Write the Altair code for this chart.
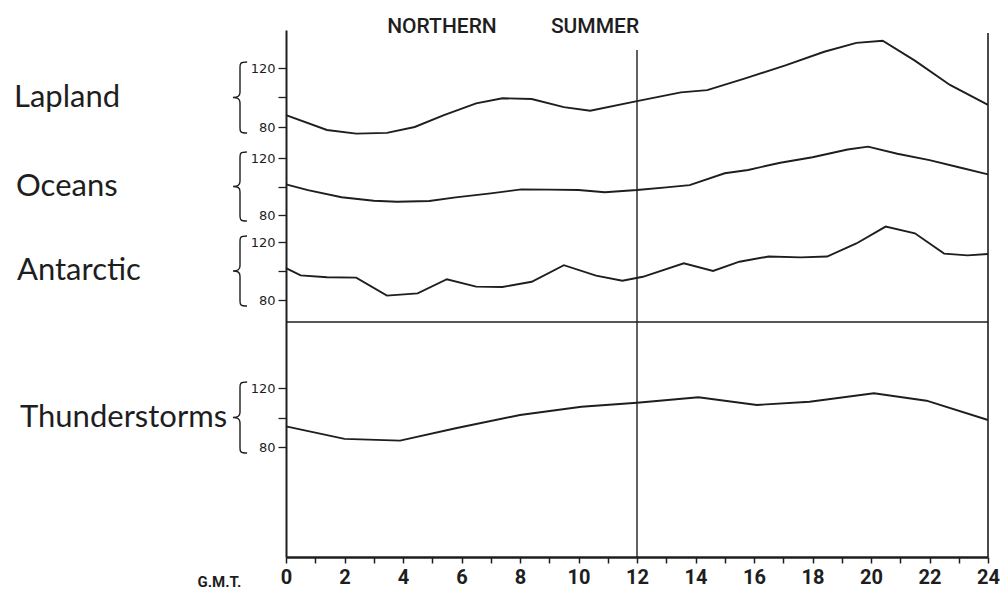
import altair as alt
import pandas as pd

# ---------------- data (hour G.M.T., % of mean) ----------------
series_names = ["Lapland", "Oceans", "Antarctic", "Thunderstorms"]

lapland_hours = [0, 1.4, 2.4, 3.45, 4.4, 5.4, 6.5, 7.4, 8.4, 9.5, 10.4, 12, 13.5, 14.4,
                 15.7, 17.1, 18.4, 19.5, 20.4, 21.5, 22.7, 24]
lapland_vals = [88, 78, 75.5, 76, 80, 88, 96, 99.5, 99, 93.5, 91, 97.5, 103.5, 105,
                113, 122, 131, 137, 138.5, 125, 108.5, 95]

oceans_hours = [0, 0.75, 1.9, 3, 3.8, 4.9, 5.8, 7, 8.05, 9, 10, 10.9, 12, 13, 13.8,
                15, 15.8, 16.9, 18, 19.2, 19.9, 20.9, 22, 23, 24]
oceans_vals = [101.5, 97.5, 92.5, 90, 89.3, 89.8, 92.4, 95.2, 98, 97.8, 97.5, 96, 97.5,
               99.4, 101, 109.3, 111.6, 116.7, 120.5, 126, 128, 123, 118.5, 113.5, 108.5]

antarctic_hours = [0, 0.5, 1.4, 2.4, 3.45, 4.5, 5.5, 6.5, 7.4, 8.4, 9.5, 10.6, 11.5, 12.2,
                   13.6, 14.6, 15.5, 16.5, 17.6, 18.5, 19.5, 20.5, 21.5, 22.5, 23.3, 24]
antarctic_vals = [102, 97, 95.7, 95.4, 83, 84.6, 94.3, 89.2, 89, 92.6, 104, 96.8, 93.3, 96,
                  105.3, 100, 106.4, 110, 109.4, 110, 119, 130.6, 126, 112, 110.8, 111.7]

thunder_hours = [0, 2, 3.9, 5.8, 8, 10.1, 12, 14.1, 16.1, 17.9, 20.1, 21.9, 24]
thunder_vals = [94, 85.5, 84.3, 92.7, 101.7, 107.3, 110, 113.7, 108.5, 110.7, 116.4, 111.4, 98.3]

x_ticks = list(range(0, 25))
y_ticks = [80, 100, 120]
header_words = ["NORTHERN", "SUMMER"]
divider_hours = [12, 24]

series_data = {
    "Lapland": (lapland_hours, lapland_vals),
    "Oceans": (oceans_hours, oceans_vals),
    "Antarctic": (antarctic_hours, antarctic_vals),
    "Thunderstorms": (thunder_hours, thunder_vals),
}

# ---------------- layout / style ----------------
PAD_L, PAD_T, W, H = 286, 30, 702, 527
INK = "#1e1e1e"
# page-y of the 120 and 80 ticks for each band
band_px = {"Lapland": (68, 127), "Oceans": (158, 215),
           "Antarctic": (242, 300), "Thunderstorms": (388, 447)}
name_px_x = {"Lapland": 14, "Oceans": 16, "Antarctic": 17, "Thunderstorms": 20}
BRACE_X = 240
BRACE = ("M0.2,-1 C0,-1 0,-0.95 0,-0.85 L0,-0.15 C0,-0.04 -0.06,0 -0.2,0 "
         "C-0.06,0 0,0.04 0,0.15 L0,0.85 C0,0.95 0,1 0.2,1")

xscale = alt.Scale(domain=[0, 24], nice=False, zero=False)
xaxis = alt.Axis(values=x_ticks, labelExpr="datum.value % 2 == 0 ? datum.label : ''",
                 title="G.M.T.", titleX=-67, titleY=24, titleAlign="center",
                 titleBaseline="middle", titleFont="Roboto", titleFontSize=15,
                 titleFontWeight="bold", titleColor=INK,
                 labelFont="Roboto", labelFontSize=20, labelFontWeight="bold",
                 labelColor=INK, labelPadding=4, labelFlush=False, labelOverlap=False,
                 tickSize=6, tickWidth=1.5, tickColor=INK, domainColor=INK,
                 domainWidth=2.5, grid=False)


def xenc():
    return alt.X("hour:Q", scale=xscale, axis=xaxis)


def band(name, first):
    hours, vals = series_data[name]
    y120, y80 = band_px[name]
    p120, p80 = y120 - PAD_T, y80 - PAD_T
    s = (p80 - p120) / 40.0
    yscale = alt.Scale(domain=[80 - (H - p80) / s, 120 + p120 / s], nice=False, zero=False)
    yaxis = alt.Axis(orient="left", values=y_ticks, title=None,
                     labelExpr="datum.value == 100 ? '' : datum.label",
                     labelFont="DejaVu Sans", labelFontSize=13, labelColor=INK,
                     labelPadding=3, labelFlush=False, labelOverlap=False,
                     tickSize=8, tickWidth=1.3, tickColor=INK,
                     domain=first, domainColor=INK, domainWidth=2, grid=False)
    df = pd.DataFrame({"hour": hours, "value": vals})
    line = alt.Chart(df).mark_line(color=INK, strokeWidth=1.9).encode(
        x=xenc(), y=alt.Y("value:Q", scale=yscale, axis=yaxis))
    one = pd.DataFrame({"name": [name]})
    label = alt.Chart(one).mark_text(align="left", baseline="middle", font="Lato",
                                     fontSize=31, color=INK).encode(
        x=alt.value(name_px_x[name] - PAD_L),
        y=alt.YDatum(100, scale=yscale, axis=yaxis),
        text="name:N")
    r = (p80 - p120) / 2 + 6
    brace = alt.Chart(one).mark_point(shape=BRACE, filled=False, size=(2 * r) ** 2,
                                      stroke=INK, strokeWidth=1.4, opacity=1).encode(
        x=alt.value(BRACE_X - PAD_L),
        y=alt.YDatum(100, scale=yscale, axis=yaxis))
    return alt.layer(line, label, brace)


bands = [band(n, i == 0) for i, n in enumerate(series_names)]

mid_rule = alt.Chart(pd.DataFrame({"hour": divider_hours[:1]})).mark_rule(
    color=INK, strokeWidth=1.4).encode(x=xenc(), y=alt.value(20), y2=alt.value(H))
right_rule = alt.Chart(pd.DataFrame({"hour": divider_hours[1:]})).mark_rule(
    color=INK, strokeWidth=1.6).encode(x=xenc(), y=alt.value(3), y2=alt.value(H))
sep_rule = alt.Chart(pd.DataFrame({"hour": [0]})).mark_rule(
    color=INK, strokeWidth=1.6).encode(x=alt.value(0), x2=alt.value(W), y=alt.value(292))

header_x = [156, 309]
headers = [
    alt.Chart(pd.DataFrame({"t": [w]})).mark_text(
        align="center", baseline="middle", font="Roboto", fontSize=21,
        fontWeight=500, color=INK).encode(x=alt.value(hx), y=alt.value(-3), text="t:N")
    for w, hx in zip(header_words, header_x)
]

chart = alt.layer(*bands, mid_rule, right_rule, sep_rule, *headers).resolve_scale(
    y="independent").resolve_axis(y="independent").properties(
    width=W, height=H,
    padding={"left": PAD_L, "top": PAD_T, "right": 20, "bottom": 37},
    autosize=alt.AutoSizeParams(type="none"),
    background="white",
).configure_view(stroke=None)

chart.save("out.html", embed_options={"renderer": "svg", "actions": False})
